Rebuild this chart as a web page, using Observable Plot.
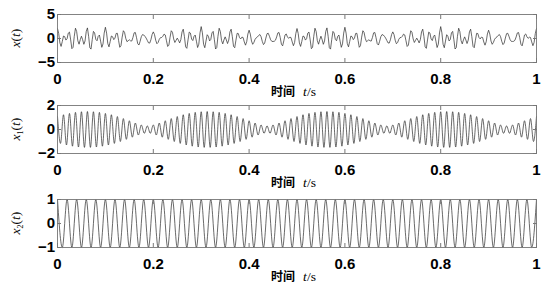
<!DOCTYPE html>
<html><head><meta charset="utf-8">
<script src="https://cdn.jsdelivr.net/npm/d3@7"></script>
<script src="https://cdn.jsdelivr.net/npm/@observablehq/plot@0.6"></script>
<style>
body{margin:0;background:#fff;width:547px;height:293px;overflow:hidden}
#chart svg{display:block}
</style></head><body><div id="chart"></div>
<script>
// ---- data ----
const xTicks = [0, 0.2, 0.4, 0.6, 0.8, 1];
const xTickLabels = ["0", "0.2", "0.4", "0.6", "0.8", "1"];
const yTicksX = [-5, 0, 5];
const yTicksX1 = [-2, 0, 2];
const yTicksX2 = [-1, 0, 1];
const xLabelCn = "时间";
const xLabelVar = "t";
const xLabelUnit = "/s";

// x(t), sampled every 1/400 s
const xSignal = [
2.08,1.05,-0.92,-1.65,-0.63,0.52,0.39,-0.33,-0.05,1.12,1.34,-0.29,-2.12,-1.84,0.44,2.14,1.45,-0.47,-1.19,-0.25,
0.48,-0.25,-1.21,-0.51,1.46,2.21,0.46,-1.92,-2.21,-0.25,1.48,1.16,-0.19,-0.47,0.45,0.72,-0.56,-1.84,-1.12,1.13,
2.34,1.12,-1.05,-1.74,-0.61,0.52,0.37,-0.24,0.08,1.05,1.08,-0.38,-1.83,-1.50,0.29,1.62,1.27,0.03,-0.66,-0.47,
-0.27,-0.49,-0.53,0.21,1.18,1.25,0.16,-1.09,-1.36,-0.58,0.38,0.82,0.73,0.46,0.09,-0.41,-0.91,-0.96,-0.27,0.82,
1.38,0.83,-0.36,-1.09,-0.84,-0.17,0.18,0.21,0.47,0.92,0.73,-0.47,-1.66,-1.39,0.27,1.62,1.29,-0.09,-0.83,-0.38,
0.08,-0.36,-0.92,-0.24,1.37,1.94,0.39,-1.74,-2.05,-0.30,1.34,1.13,-0.12,-0.43,0.44,0.72,-0.56,-1.88,-1.19,1.16,
2.48,1.17,-1.21,-1.92,-0.54,0.79,0.46,-0.51,-0.21,1.17,1.48,-0.25,-2.19,-1.88,0.45,2.14,1.44,-0.43,-1.12,-0.29,
0.34,-0.30,-1.05,-0.33,1.39,1.94,0.37,-1.65,-1.92,-0.36,1.08,1.03,0.18,-0.09,0.29,0.20,-0.73,-1.39,-0.66,0.95,
1.73,0.92,-0.53,-1.21,-0.82,-0.17,0.16,0.33,0.64,0.83,0.38,-0.60,-1.27,-0.96,0.09,1.01,1.09,0.46,-0.27,-0.60,
-0.62,-0.58,-0.36,0.33,1.16,1.25,0.18,-1.21,-1.53,-0.49,0.73,0.95,0.35,0.03,0.27,0.20,-0.71,-1.50,-0.83,1.03,
2.08,1.05,-0.92,-1.65,-0.63,0.52,0.39,-0.33,-0.05,1.12,1.34,-0.29,-2.12,-1.84,0.44,2.14,1.45,-0.47,-1.19,-0.25,
0.48,-0.25,-1.21,-0.51,1.46,2.21,0.46,-1.92,-2.21,-0.25,1.48,1.16,-0.19,-0.47,0.45,0.72,-0.56,-1.84,-1.12,1.13,
2.34,1.12,-1.05,-1.74,-0.61,0.52,0.37,-0.24,0.08,1.05,1.08,-0.38,-1.83,-1.50,0.29,1.62,1.27,0.03,-0.66,-0.47,
-0.27,-0.49,-0.53,0.21,1.18,1.25,0.16,-1.09,-1.36,-0.58,0.38,0.82,0.73,0.46,0.09,-0.41,-0.91,-0.96,-0.27,0.82,
1.38,0.83,-0.36,-1.09,-0.84,-0.17,0.18,0.21,0.47,0.92,0.73,-0.47,-1.66,-1.39,0.27,1.62,1.29,-0.09,-0.83,-0.38,
0.08,-0.36,-0.92,-0.24,1.37,1.94,0.39,-1.74,-2.05,-0.30,1.34,1.13,-0.12,-0.43,0.44,0.72,-0.56,-1.88,-1.19,1.16,
2.48,1.17,-1.21,-1.92,-0.54,0.79,0.46,-0.51,-0.21,1.17,1.48,-0.25,-2.19,-1.88,0.45,2.14,1.44,-0.43,-1.12,-0.29,
0.34,-0.30,-1.05,-0.33,1.39,1.94,0.37,-1.65,-1.92,-0.36,1.08,1.03,0.18,-0.09,0.29,0.20,-0.73,-1.39,-0.66,0.95,
1.73,0.92,-0.53,-1.21,-0.82,-0.17,0.16,0.33,0.64,0.83,0.38,-0.60,-1.27,-0.96,0.09,1.01,1.09,0.46,-0.27,-0.60,
-0.62,-0.58,-0.36,0.33,1.16,1.25,0.18,-1.21,-1.53,-0.49,0.73,0.95,0.35,0.03,0.27,0.20,-0.71,-1.50,-0.83,1.03,
2.08];

// x1(t): successive peaks and troughs, one every 1/160 s
const x1Peaks = [
1.08,-1.16,1.23,-1.29,1.34,-1.39,1.43,-1.46,1.48,-1.49,
1.50,-1.49,1.48,-1.46,1.43,-1.39,1.34,-1.29,1.23,-1.16,1.08,-1.00,0.91,-0.82,0.73,-0.64,0.54,-0.46,0.38,-0.32,
0.30,-0.32,0.38,-0.46,0.54,-0.64,0.73,-0.82,0.91,-1.00,1.08,-1.16,1.23,-1.29,1.34,-1.39,1.43,-1.46,1.48,-1.49,
1.50,-1.49,1.48,-1.46,1.43,-1.39,1.34,-1.29,1.23,-1.16,1.08,-1.00,0.91,-0.82,0.73,-0.64,0.54,-0.46,0.38,-0.32,
0.30,-0.32,0.38,-0.46,0.54,-0.64,0.73,-0.82,0.91,-1.00,1.08,-1.16,1.23,-1.29,1.34,-1.39,1.43,-1.46,1.48,-1.49,
1.50,-1.49,1.48,-1.46,1.43,-1.39,1.34,-1.29,1.23,-1.16,1.08,-1.00,0.91,-0.82,0.73,-0.64,0.54,-0.46,0.38,-0.32,
0.30,-0.32,0.38,-0.46,0.54,-0.64,0.73,-0.82,0.91,-1.00,1.08,-1.16,1.23,-1.29,1.34,-1.39,1.43,-1.46,1.48,-1.49,
1.50,-1.49,1.48,-1.46,1.43,-1.39,1.34,-1.29,1.23,-1.16,1.08,-1.00,0.91,-0.82,0.73,-0.64,0.54,-0.46,0.38,-0.32,
0.30,-0.32,0.38,-0.46,0.54,-0.64,0.73,-0.82,0.91,-1.00,1.08];

// x2(t): successive peaks and troughs, one every 1/100 s
const x2Peaks = [
1,-1,1,-1,1,-1,1,-1,1,-1,1,-1,1,-1,1,-1,1,-1,1,-1,
1,-1,1,-1,1,-1,1,-1,1,-1,1,-1,1,-1,1,-1,1,-1,1,-1,
1,-1,1,-1,1,-1,1,-1,1,-1,1,-1,1,-1,1,-1,1,-1,1,-1,
1,-1,1,-1,1,-1,1,-1,1,-1,1,-1,1,-1,1,-1,1,-1,1,-1,
1,-1,1,-1,1,-1,1,-1,1,-1,1,-1,1,-1,1,-1,1,-1,1,-1,
1];

// ---- drawing ----
const W = 547, ML = 57, MR = 11;
const TICK_FONT = "'Liberation Sans', Arial, Helvetica, sans-serif";
const panels = [
  {data: xSignal, n: 400, yDomain: [-5, 5], yTicks: yTicksX, curve: "linear", top: 14, h: 48, svgH: 93, sub: null},
  {data: x1Peaks, n: 160, yDomain: [-2, 2], yTicks: yTicksX1, curve: "monotone-x", top: 12, h: 48, svgH: 95, sub: "1"},
  {data: x2Peaks, n: 100, yDomain: [-1, 1], yTicks: yTicksX2, curve: "monotone-x", top: 11, h: 48, svgH: 105, sub: "2"}
];

const root = document.getElementById("chart");
for (const p of panels) {
  const rows = p.data.map((v, i) => ({t: i / p.n, v}));
  const mb = p.svgH - p.top - p.h;
  const svg = Plot.plot({
    width: W, height: p.svgH, marginLeft: ML, marginRight: MR, marginTop: p.top, marginBottom: mb,
    style: {background: "white", overflow: "visible", fontFamily: TICK_FONT},
    x: {domain: [0, 1], label: null},
    y: {domain: p.yDomain, label: null},
    marks: [
      Plot.line(rows, {x: "t", y: "v", stroke: "#2a2a2a", strokeWidth: 0.7, curve: p.curve}),
      Plot.axisX(xTicks, {anchor: "bottom", tickSize: -4, tickFormat: () => "", stroke: "#777", label: null}),
      Plot.axisX(xTicks, {anchor: "top", tickSize: -4, tickFormat: () => "", stroke: "#777", label: null}),
      Plot.axisY(p.yTicks, {anchor: "left", tickSize: -4, tickFormat: () => "", stroke: "#777", label: null}),
      Plot.axisY(p.yTicks, {anchor: "right", tickSize: -4, tickFormat: () => "", stroke: "#777", label: null}),
      Plot.axisX(xTicks, {anchor: "bottom", tickSize: 0, tickPadding: 10.5, tickFormat: (d, i) => xTickLabels[i],
        fontSize: 15, fontWeight: "bold", fill: "#000", label: null}),
      Plot.axisY(p.yTicks, {anchor: "left", tickSize: 0, tickPadding: 2.5,
        tickFormat: d => (d < 0 ? "\u2212" + Math.abs(d) : String(d)),
        fontSize: 15, fontWeight: "bold", fill: "#000", label: null}),
      Plot.frame({stroke: "#777", strokeWidth: 0.9})
    ]
  });
  const s = d3.select(svg);
  const cx = ML + (W - ML - MR) / 2;
  const bottom = p.top + p.h;
  // x-axis label: 时间 t/s
  const xl = s.append("text")
    .attr("x", cx - 3).attr("y", bottom + 33.5)
    .attr("text-anchor", "middle").attr("fill", "#000");
  xl.append("tspan").text(xLabelCn)
    .attr("font-family", "'Noto Sans CJK SC', sans-serif").attr("font-size", 12).attr("font-weight", "bold");
  xl.append("tspan").text(xLabelVar).attr("dx", 8)
    .attr("font-family", "'Liberation Serif', 'Times New Roman', serif").attr("font-size", 13.5).attr("font-style", "italic");
  xl.append("tspan").text(xLabelUnit)
    .attr("font-family", "'Liberation Serif', 'Times New Roman', serif").attr("font-size", 13.5);
  // y-axis label: x(t), x1(t), x2(t)
  const yl = s.append("text")
    .attr("transform", `translate(20,${p.top + p.h / 2}) rotate(-90)`)
    .attr("text-anchor", "middle").attr("fill", "#000")
    .attr("font-family", "'Liberation Serif', 'Times New Roman', serif").attr("font-size", 13.5);
  yl.append("tspan").text("x").attr("font-style", "italic");
  if (p.sub) {
    yl.append("tspan").text(p.sub).attr("font-size", 8).attr("dy", 3);
    yl.append("tspan").text("(").attr("dy", -3);
  } else {
    yl.append("tspan").text("(");
  }
  yl.append("tspan").text("t").attr("font-style", "italic");
  yl.append("tspan").text(")");
  root.appendChild(svg);
}
</script>
</body></html>
